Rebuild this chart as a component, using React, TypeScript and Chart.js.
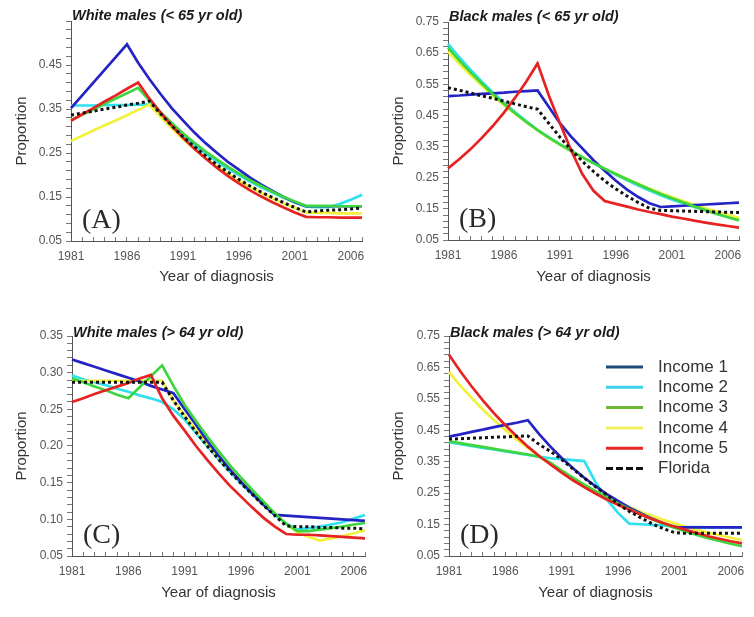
import React, { useEffect, useRef } from 'react';
import { Chart, registerables } from 'chart.js';

Chart.register(...registerables);

// ---------- data ----------
const YEARS = ['1981','1982','1983','1984','1985','1986','1987','1988','1989','1990','1991','1992','1993','1994','1995','1996','1997','1998','1999','2000','2001','2002','2003','2004','2005','2006','2007'];
const X_LABELS = ['1981','1986','1991','1996','2001','2006'];
const SERIES_NAMES = ['Income 1','Income 2','Income 3','Income 4','Income 5','Florida'];

// Panel A: White males (< 65 yr old)
const A_INC1 = [0.352,0.381,0.410,0.439,0.468, 0.497,0.455,0.418,0.384,0.352, 0.324,0.297,0.273,0.251,0.230, 0.212,0.194,0.178,0.164,0.150, 0.138,0.129,0.129,0.129,0.129, 0.129,0.129];
const A_INC2 = [0.358,0.358,0.358,0.359,0.359, 0.359,0.360,0.360,0.334,0.311, 0.289,0.268,0.249,0.231,0.215, 0.200,0.185,0.172,0.160,0.148, 0.138,0.128,0.127,0.127,0.134, 0.144,0.155];
const A_INC3 = [0.325,0.337,0.349,0.362,0.374, 0.386,0.398,0.369,0.343,0.318, 0.295,0.274,0.254,0.236,0.219, 0.203,0.188,0.175,0.162,0.150, 0.140,0.130,0.130,0.130,0.129, 0.129,0.129];
const A_INC4 = [0.277,0.289,0.301,0.313,0.324, 0.336,0.348,0.360,0.332,0.306, 0.282,0.260,0.239,0.221,0.203, 0.187,0.173,0.159,0.147,0.135, 0.125,0.115,0.114,0.114,0.113, 0.113,0.113];
const A_INC5 = [0.323,0.338,0.352,0.367,0.381, 0.396,0.410,0.374,0.342,0.312, 0.285,0.260,0.238,0.217,0.198, 0.181,0.165,0.151,0.138,0.126, 0.115,0.105,0.104,0.104,0.103, 0.103,0.103];
const A_FL   = [0.336,0.341,0.345,0.350,0.354, 0.359,0.363,0.368,0.339,0.312, 0.287,0.265,0.244,0.224,0.207, 0.190,0.175,0.161,0.149,0.137, 0.126,0.116,0.118,0.120,0.121, 0.123,0.125];

// Panel B: Black males (< 65 yr old)
const B_INC1 = [0.512,0.514,0.517,0.519,0.521, 0.523,0.526,0.528,0.530,0.478, 0.425,0.382,0.344,0.306,0.272, 0.240,0.212,0.188,0.168,0.156, 0.158,0.160,0.162,0.164,0.166, 0.168,0.170];
const B_INC2 = [0.680,0.637,0.597,0.559,0.524, 0.491,0.460,0.431,0.404,0.380, 0.357,0.336,0.315,0.296,0.278, 0.259,0.242,0.225,0.209,0.194, 0.180,0.168,0.156,0.145,0.135, 0.125,0.116];
const B_INC3 = [0.668,0.627,0.589,0.553,0.519, 0.487,0.457,0.429,0.403,0.379, 0.357,0.336,0.316,0.297,0.279, 0.262,0.245,0.229,0.213,0.198, 0.184,0.171,0.158,0.146,0.134, 0.123,0.113];
const B_INC4 = [0.655,0.616,0.580,0.546,0.513, 0.483,0.455,0.428,0.402,0.378, 0.356,0.335,0.315,0.297,0.279, 0.262,0.246,0.230,0.215,0.201, 0.188,0.175,0.163,0.152,0.141, 0.131,0.121];
const B_INC5 = [0.280,0.309,0.341,0.377,0.416, 0.459,0.507,0.559,0.617,0.515, 0.425,0.338,0.262,0.208,0.175, 0.166,0.157,0.148,0.140,0.133, 0.125,0.119,0.112,0.106,0.100, 0.095,0.090];
const B_FL   = [0.539,0.531,0.522,0.513,0.505, 0.496,0.487,0.478,0.470,0.425, 0.380,0.340,0.303,0.270,0.240, 0.214,0.191,0.170,0.152,0.145, 0.144,0.143,0.142,0.141,0.140, 0.139,0.138];

// Panel C: White males (> 64 yr old)
const C_INC1 = [0.318,0.313,0.308,0.303,0.298, 0.293,0.288,0.282,0.277,0.272, 0.250,0.229,0.207,0.187,0.168, 0.151,0.135,0.120,0.106,0.105, 0.104,0.103,0.102,0.101,0.100, 0.099,0.098];
const C_INC2 = [0.296,0.291,0.287,0.283,0.278, 0.274,0.269,0.265,0.260,0.250, 0.236,0.218,0.200,0.182,0.165, 0.149,0.134,0.120,0.106,0.094, 0.086,0.088,0.090,0.093,0.096, 0.101,0.106];
const C_INC3 = [0.292,0.287,0.281,0.276,0.270, 0.265,0.280,0.295,0.310,0.282, 0.256,0.234,0.213,0.193,0.174, 0.157,0.140,0.124,0.108,0.094, 0.084,0.084,0.086,0.088,0.090, 0.093,0.095];
const C_INC4 = [0.289,0.289,0.289,0.289,0.289, 0.289,0.289,0.289,0.289,0.262, 0.242,0.222,0.203,0.185,0.168, 0.152,0.137,0.122,0.108,0.094, 0.082,0.076,0.071,0.074,0.077, 0.081,0.085];
const C_INC5 = [0.260,0.265,0.271,0.276,0.281, 0.286,0.292,0.297,0.265,0.241, 0.221,0.200,0.181,0.163,0.146, 0.131,0.116,0.102,0.090,0.080, 0.079,0.079,0.078,0.077,0.076, 0.075,0.074];
const C_FL   = [0.287,0.287,0.287,0.287,0.287, 0.287,0.287,0.287,0.287,0.262, 0.240,0.219,0.200,0.182,0.165, 0.149,0.134,0.119,0.105,0.091, 0.090,0.090,0.089,0.089,0.088, 0.088,0.087];

// Panel D: Black males (> 64 yr old)
const D_INC1 = [0.430,0.437,0.445,0.452,0.460, 0.467,0.474,0.482,0.438,0.398, 0.362,0.329,0.299,0.272,0.247, 0.225,0.204,0.186,0.169,0.154, 0.141,0.141,0.141,0.141,0.141, 0.141,0.141];
const D_INC2 = [0.412,0.406,0.400,0.394,0.389, 0.383,0.377,0.372,0.366,0.361, 0.358,0.355,0.352,0.285,0.230, 0.187,0.153,0.151,0.149,0.147, 0.145,0.143,0.142,0.141,0.141, 0.141,0.141];
const D_INC3 = [0.415,0.409,0.403,0.397,0.391, 0.385,0.379,0.373,0.366,0.347, 0.322,0.299,0.277,0.256,0.236, 0.217,0.199,0.183,0.167,0.153, 0.140,0.128,0.117,0.107,0.098, 0.089,0.081];
const D_INC4 = [0.635,0.592,0.553,0.516,0.482, 0.451,0.421,0.394,0.368,0.345, 0.322,0.298,0.276,0.256,0.238, 0.221,0.206,0.191,0.178,0.165, 0.154,0.143,0.133,0.124,0.116, 0.108,0.101];
const D_INC5 = [0.690,0.638,0.590,0.545,0.504, 0.466,0.431,0.398,0.368,0.341, 0.315,0.291,0.269,0.249,0.230, 0.213,0.197,0.182,0.168,0.155, 0.144,0.133,0.123,0.113,0.105, 0.097,0.090];
const D_FL   = [0.422,0.423,0.425,0.426,0.428, 0.429,0.431,0.432,0.405,0.383, 0.357,0.327,0.298,0.270,0.245, 0.215,0.192,0.172,0.153,0.137, 0.125,0.122,0.122,0.122,0.122, 0.122,0.122];

const A_YLABELS = [0.05, 0.15, 0.25, 0.35, 0.45];
const B_YLABELS = [0.05, 0.15, 0.25, 0.35, 0.45, 0.55, 0.65, 0.75];
const C_YLABELS = [0.05, 0.10, 0.15, 0.20, 0.25, 0.30, 0.35];
const D_YLABELS = [0.05, 0.15, 0.25, 0.35, 0.45, 0.55, 0.65, 0.75];

// ---------- styles ----------
const SANS = '"Liberation Sans", Arial, Helvetica, sans-serif';
const SERIF = '"Liberation Serif", "Times New Roman", serif';
const LINE_COLORS = ['#2424c4', '#30e0ee', '#3ed63e', '#f2f23c', '#e62222', '#111111'];
const LEGEND_COLORS = ['#1e4a78', '#3cd0ec', '#6cb834', '#f0f060', '#e82626', '#111111'];
const DRAW_ORDER = [3, 5, 2, 4, 1, 0];

const PANELS = [
  { tag: '(A)', title: 'White males (< 65 yr old)', series: [A_INC1, A_INC2, A_INC3, A_INC4, A_INC5, A_FL],
    yMin: 0.05, yMax: 0.55, yStep: 0.02, yLabels: A_YLABELS,
    x: 0, y: 0, w: 377, h: 308, l: 71, r: 362, t: 21, b: 241, titleY: 16, xTitleY: 277, legend: false },
  { tag: '(B)', title: 'Black males (< 65 yr old)', series: [B_INC1, B_INC2, B_INC3, B_INC4, B_INC5, B_FL],
    yMin: 0.05, yMax: 0.75, yStep: 0.02, yLabels: B_YLABELS,
    x: 377, y: 0, w: 377, h: 308, l: 71, r: 362, t: 22, b: 240, titleY: 17, xTitleY: 277, legend: false },
  { tag: '(C)', title: 'White males (> 64 yr old)', series: [C_INC1, C_INC2, C_INC3, C_INC4, C_INC5, C_FL],
    yMin: 0.05, yMax: 0.35, yStep: 0.01, yLabels: C_YLABELS,
    x: 0, y: 308, w: 377, h: 309, l: 72, r: 365, t: 28, b: 248, titleY: 25, xTitleY: 285, legend: false },
  { tag: '(D)', title: 'Black males (> 64 yr old)', series: [D_INC1, D_INC2, D_INC3, D_INC4, D_INC5, D_FL],
    yMin: 0.05, yMax: 0.75, yStep: 0.02, yLabels: D_YLABELS,
    x: 377, y: 308, w: 377, h: 309, l: 72, r: 365, t: 28, b: 248, titleY: 25, xTitleY: 285, legend: true },
];

function makeTicks(min: number, max: number, step: number) {
  const out: number[] = [];
  const n = Math.round((max - min) / step);
  for (let i = 0; i <= n; i++) out.push(Math.round((min + i * step) * 1000) / 1000);
  return out;
}

const decorPlugin = {
  id: 'decor',
  afterDraw(chart: any, _args: any, opts: any) {
    const { ctx, chartArea } = chart;
    ctx.save();
    ctx.fillStyle = '#1a1a1a';
    ctx.font = `italic bold 14.5px ${SANS}`;
    ctx.textBaseline = 'middle';
    ctx.textAlign = 'left';
    ctx.fillText(opts.title, chartArea.left + 1, opts.titleY);
    ctx.font = `28px ${SERIF}`;
    ctx.textBaseline = 'alphabetic';
    ctx.fillStyle = '#2a2a2a';
    ctx.fillText(opts.tag, chartArea.left + 11, chartArea.bottom - 13);
    if (opts.legend) {
      for (let i = 0; i < SERIES_NAMES.length; i++) {
        const yy = 59 + i * 20.3;
        ctx.beginPath();
        ctx.strokeStyle = LEGEND_COLORS[i];
        ctx.lineWidth = 3;
        ctx.setLineDash(i === 5 ? [7, 3] : []);
        ctx.moveTo(229, yy);
        ctx.lineTo(266, yy);
        ctx.stroke();
        ctx.setLineDash([]);
        ctx.fillStyle = '#333';
        ctx.font = `17px ${SANS}`;
        ctx.textBaseline = 'middle';
        ctx.fillText(SERIES_NAMES[i], 281, yy);
      }
    }
    ctx.restore();
  },
};

function Panel({ p }: { p: any }) {
  const ref = useRef<HTMLCanvasElement>(null);
  useEffect(() => {
    if (!ref.current) return;
    const yTicks = makeTicks(p.yMin, p.yMax, p.yStep);
    const chart = new Chart(ref.current, {
      type: 'line',
      data: {
        labels: YEARS,
        datasets: SERIES_NAMES.map((name, i) => ({
          label: name,
          data: p.series[i],
          borderColor: LINE_COLORS[i],
          backgroundColor: LINE_COLORS[i],
          borderWidth: i === 5 ? 3 : 2.7,
          borderDash: i === 5 ? [3, 3] : [],
          borderCapStyle: 'butt',
          pointRadius: 0,
          tension: 0,
          fill: false,
          order: DRAW_ORDER[i],
        })),
      },
      options: {
        responsive: false,
        animation: false,
        devicePixelRatio: 1,
        layout: { padding: { top: p.t, left: 0, right: p.w - p.r, bottom: 0 } },
        plugins: {
          legend: { display: false },
          tooltip: { enabled: false },
          decor: { title: p.title, tag: p.tag, titleY: p.titleY, legend: p.legend },
        } as any,
        scales: {
          x: {
            type: 'category',
            offset: false,
            afterFit: (s: any) => { s.height = p.h - p.b; },
            ticks: {
              autoSkip: false,
              maxRotation: 0,
              minRotation: 0,
              padding: 12,
              color: '#555',
              font: { family: SANS, size: 12 },
              callback: (_v: any, i: number) => (X_LABELS.includes(YEARS[i]) ? YEARS[i] : ''),
            },
            grid: { drawOnChartArea: false, tickLength: -4, color: '#777' },
            border: { display: true, color: '#555', width: 1 },
            title: {
              display: true, text: 'Year of diagnosis', color: '#333',
              font: { family: SANS, size: 15 },
              padding: { top: 0, bottom: p.h - p.xTitleY - 9 },
            },
          },
          y: {
            type: 'linear',
            min: p.yMin,
            max: p.yMax,
            afterBuildTicks: (s: any) => { s.ticks = yTicks.map((v) => ({ value: v })); },
            afterFit: (s: any) => { s.width = p.l; },
            ticks: {
              autoSkip: false,
              padding: 4,
              color: '#555',
              font: { family: SANS, size: 12 },
              callback: (v: any) => {
                const n = Number(v);
                return p.yLabels.some((l: number) => Math.abs(l - n) < 1e-6) ? n.toFixed(2) : '';
              },
            },
            grid: { drawOnChartArea: false, tickLength: 5, color: '#777' },
            border: { display: true, color: '#555', width: 1 },
            title: {
              display: true, text: 'Proportion', color: '#333',
              font: { family: SANS, size: 15 },
              padding: { top: 13, bottom: 0 },
            },
          },
        },
      } as any,
      plugins: [decorPlugin as any],
    });
    return () => chart.destroy();
  }, [p]);
  return (
    <canvas
      ref={ref}
      width={p.w}
      height={p.h}
      style={{ position: 'absolute', left: p.x, top: p.y, width: p.w, height: p.h }}
    />
  );
}

export default function App() {
  return (
    <div style={{ position: 'absolute', left: 0, top: 0, width: 754, height: 617, background: '#fff' }}>
      {PANELS.map((p) => (
        <Panel key={p.tag} p={p} />
      ))}
    </div>
  );
}
